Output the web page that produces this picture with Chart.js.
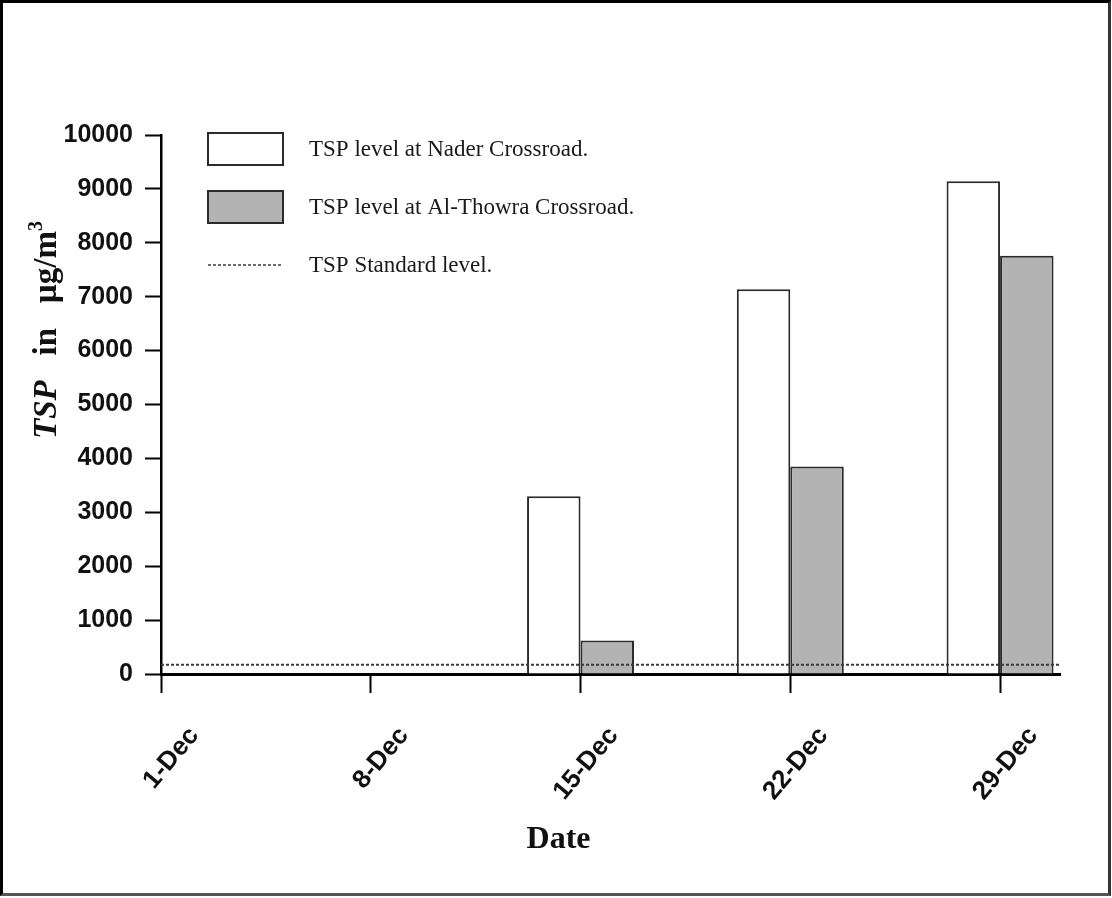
<!DOCTYPE html>
<html><head><meta charset="utf-8">
<script src="https://cdn.jsdelivr.net/npm/chart.js@4.4.1/dist/chart.umd.min.js"></script>
<style>
html,body{margin:0;padding:0;background:#fff;}
#frame{position:absolute;left:0;top:0;width:1111px;height:896px;box-sizing:border-box;border-style:solid;border-width:3px;border-color:#000 #333 #555 #000;background:#fff;}
canvas{display:block;}
</style></head><body>
<div id="frame"><canvas id="c" width="1105" height="890"></canvas></div>
<script>
// ---- data ----
const dateLabels = ['1-Dec', '8-Dec', '15-Dec', '22-Dec', '29-Dec'];
const dayOfMonth = [1, 8, 15, 22, 29];
const naderTSP   = [null, null, 3300, 7140, 9140];
const thowraTSP  = [null, null, 620, 3850, 7760];
const standardTSP = 170;
const seriesNames = ['TSP level at Nader Crossroad.', 'TSP level at Al-Thowra Crossroad.', 'TSP Standard level.'];
const yTickValues = [0, 1000, 2000, 3000, 4000, 5000, 6000, 7000, 8000, 9000, 10000];
const xRange = [1, 31];

const serif = "'Liberation Serif', 'Times New Roman', serif";
const sans = "'Liberation Sans', Arial, sans-serif";

const decor = {
  id: 'decor',
  afterDraw(chart) {
    const { ctx, chartArea: a } = chart;
    // legend
    const bx = a.left + 47, bw = 75, bh = 32, tx = a.left + 148;
    chart.data.datasets.forEach((d, i) => {
      const cy = a.top + 14 + i * 58;
      ctx.save();
      if (d.type === 'line') {
        ctx.strokeStyle = d.borderColor; ctx.lineWidth = 1.6; ctx.setLineDash([3, 2]);
        ctx.beginPath(); ctx.moveTo(bx, cy); ctx.lineTo(bx + bw, cy); ctx.stroke();
      } else {
        ctx.fillStyle = d.backgroundColor; ctx.fillRect(bx, cy - bh / 2, bw, bh);
        ctx.strokeStyle = d.borderColor; ctx.lineWidth = 2; ctx.strokeRect(bx, cy - bh / 2, bw, bh);
      }
      ctx.setLineDash([]);
      ctx.fillStyle = '#1a1a1a'; ctx.font = '23px ' + serif; ctx.textBaseline = 'middle'; ctx.textAlign = 'left';
      ctx.fillText(d.label, tx, cy + 1);
      ctx.restore();
    });
    // y axis title (mixed styles)
    ctx.save();
    ctx.translate(a.left - 116, a.top + 195);
    ctx.rotate(-Math.PI / 2);
    ctx.fillStyle = '#111'; ctx.textBaseline = 'alphabetic'; ctx.textAlign = 'left';
    const parts = [
      { t: 'TSP', f: 'italic bold 33px ' + serif, dy: 0 },
      { t: '   in   ', f: 'bold 33px ' + serif, dy: 0 },
      { t: '\u00b5g/m', f: 'bold 33px ' + serif, dy: 0 },
      { t: '3', f: 'bold 20px ' + serif, dy: -14 }
    ];
    let total = 0;
    parts.forEach(p => { ctx.font = p.f; p.w = ctx.measureText(p.t).width; total += p.w; });
    let x = -total / 2;
    parts.forEach(p => { ctx.font = p.f; ctx.fillText(p.t, x, 11 + p.dy); x += p.w; });
    ctx.restore();
    // x axis title
    ctx.save();
    ctx.fillStyle = '#111'; ctx.font = 'bold 32px ' + serif; ctx.textAlign = 'center'; ctx.textBaseline = 'middle';
    ctx.fillText('Date', chart.width / 2 + 3, a.bottom + 166);
    ctx.restore();
  }
};

new Chart(document.getElementById('c'), {
  type: 'bar',
  data: {
    datasets: [
      {
        label: seriesNames[0],
        data: dayOfMonth.map((d, i) => ({ x: d, y: naderTSP[i] })),
        backgroundColor: '#ffffff', borderColor: '#2b2b2b', borderWidth: 2,
        categoryPercentage: 0.51, barPercentage: 1.0, order: 1
      },
      {
        label: seriesNames[1],
        data: dayOfMonth.map((d, i) => ({ x: d, y: thowraTSP[i] })),
        backgroundColor: '#b3b3b3', borderColor: '#2b2b2b', borderWidth: 2,
        categoryPercentage: 0.51, barPercentage: 1.0, order: 1
      },
      {
        type: 'line',
        label: seriesNames[2],
        data: xRange.map(x => ({ x: x, y: standardTSP })),
        borderColor: '#3a3a3a', borderWidth: 2, borderDash: [3, 2],
        pointRadius: 0, fill: false, order: 0
      }
    ]
  },
  options: {
    responsive: false,
    animation: false,
    devicePixelRatio: 1,
    layout: { padding: { left: 0, right: 48, top: 132, bottom: 0 } },
    plugins: { legend: { display: false }, tooltip: { enabled: false }, title: { display: false } },
    scales: {
      x: {
        type: 'linear', min: xRange[0], max: xRange[1], offset: false,
        afterBuildTicks: s => { s.ticks = dayOfMonth.map(v => ({ value: v })); },
        afterFit: s => { s.height = 219; },
        grid: { offset: false, drawOnChartArea: false, drawTicks: true, tickLength: 19, tickWidth: 2, tickColor: '#000' },
        border: { display: true, color: '#000', width: 3 },
        ticks: {
          autoSkip: false, minRotation: 50, maxRotation: 50, labelOffset: 33, padding: 28,
          color: '#111', font: { family: sans, size: 26, weight: 'bold' },
          callback: v => dateLabels[dayOfMonth.indexOf(v)]
        }
      },
      y: {
        min: 0, max: 10000,
        afterBuildTicks: s => { s.ticks = yTickValues.map(v => ({ value: v })); },
        afterFit: s => { s.width = 158; },
        grid: { drawOnChartArea: false, drawTicks: true, tickLength: 16, tickWidth: 2, tickColor: '#000' },
        border: { display: true, color: '#000', width: 2.5 },
        ticks: { color: '#111', padding: 12, font: { family: sans, size: 25, weight: 'bold' }, callback: v => String(v) }
      }
    }
  },
  plugins: [decor]
});
</script>
</body></html>
